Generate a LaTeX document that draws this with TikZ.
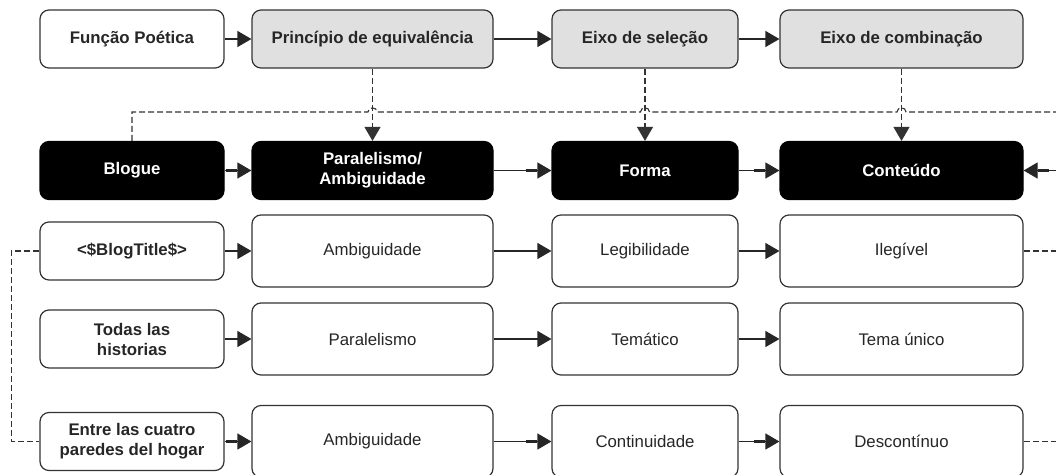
\documentclass[tikz,border=0pt]{standalone}
\usepackage{fontspec}
\setmainfont{Liberation Sans}
\usetikzlibrary{arrows.meta, positioning}

\begin{document}
\begin{tikzpicture}[x=1pt, y=-1pt]
\tikzset{
  box/.style={draw=black!80, line width=1.2pt, rounded corners=9pt, align=center,
    inner sep=0pt, text=black!85, font=\fontsize{16.8}{20}\selectfont},
  head/.style={box, font=\bfseries\fontsize{16.8}{20}\selectfont},
  grey/.style={head, fill=black!12},
  dark/.style={head, fill=black, draw=black, text=white},
  colA/.style={minimum width=184pt},
  colB/.style={minimum width=241pt},
  colC/.style={minimum width=186pt},
  colD/.style={minimum width=243pt},
  low/.style={minimum height=58pt},
  tall/.style={minimum height=72pt},
  flow/.style={line width=1.2pt, draw=black!85,
    -{Rectangle[length=11pt,width=2.8pt]Triangle[length=14pt,width=16pt]}},
  link/.style={line width=1.1pt, draw=black!80, dash pattern=on 6pt off 3pt},
  linkto/.style={link, -{Triangle[length=14pt,width=16pt]}}
}

\useasboundingbox (0,0) rectangle (1056,474);

% row 1
\node[head, colA, low] (poetica)    at (132,39)   {Função Poética};
\node[grey, colB, low] (principio)  at (372.5,39) {Princípio de equivalência};
\node[grey, colC, low] (selecao)    at (645,39)   {Eixo de seleção};
\node[grey, colD, low] (combinacao) at (901.5,39) {Eixo de combinação};

% row 2
\node[dark, colA, low] (blogue)      at (132,170.5)   {Blogue};
\node[dark, colB, low] (paralelismo) at (372.5,170.5) {Paralelismo/\\Ambiguidade};
\node[dark, colC, low] (forma)       at (645,170.5)   {Forma};
\node[dark, colD, low] (conteudo)    at (901.5,170.5) {Conteúdo};

% row 3
\node[head, colA, low]  (titulo)   at (132,251)   {<\$BlogTitle\$>};
\node[box,  colB, tall] (ambigA)   at (372.5,251) {Ambiguidade};
\node[box,  colC, tall] (legivel)  at (645,251)   {Legibilidade};
\node[box,  colD, tall] (ilegivel) at (901.5,251) {Ilegível};

% row 4
\node[head, colA, low]  (historias) at (132,339)   {Todas las\\historias};
\node[box,  colB, tall] (paral)     at (372.5,339) {Paralelismo};
\node[box,  colC, tall] (tematico)  at (645,339)   {Temático};
\node[box,  colD, tall] (unico)     at (901.5,339) {Tema único};

% row 5
\node[head, colA, low]  (cuatro)  at (132,441.5)   {Entre las cuatro\\paredes del hogar};
\node[box,  colB, tall] (ambigB)  at (372.5,441.5) {Ambiguidade};
\node[box,  colC, tall] (contin)  at (645,441.5)   {Continuidade};
\node[box,  colD, tall] (descont) at (901.5,441.5) {Descontínuo};

\coordinate (bend)   at (132,112);
\coordinate (outtop) at (1070,112);
\coordinate (outin)  at (1070,170.5);
\coordinate (outA)   at (1070,251);
\coordinate (outB)   at (1070,441.5);

% solid arrows
\foreach \a/\b in {poetica/principio, principio/selecao, selecao/combinacao,
                   blogue/paralelismo, paralelismo/forma, forma/conteudo,
                   titulo/ambigA, ambigA/legivel, legivel/ilegivel,
                   historias/paral, paral/tematico, tematico/unico,
                   cuatro/ambigB, ambigB/contin, contin/descont}
  \draw[flow] (\a) -- (\b);
\draw[flow] (outin) -- (conteudo);

% dashed links
\draw[link] (blogue.north) -- (bend)
  -- (368,112) .. controls (368,106.5) and (377,106.5) .. (377,112)
  -- (640.5,112) .. controls (640.5,106.5) and (649.5,106.5) .. (649.5,112)
  -- (897,112) .. controls (897,106.5) and (906,106.5) .. (906,112)
  -- (outtop);
\draw[linkto] (principio) -- (paralelismo);
\draw[linkto] (selecao) -- (forma);
\draw[linkto] (combinacao) -- (conteudo);

\draw[link] (titulo.west) -- ++(-28,0) |- (cuatro.west);
\draw[link] (ilegivel.east) -- (outA);
\draw[link] (descont.east) -- (outB);
\end{tikzpicture}
\end{document}
